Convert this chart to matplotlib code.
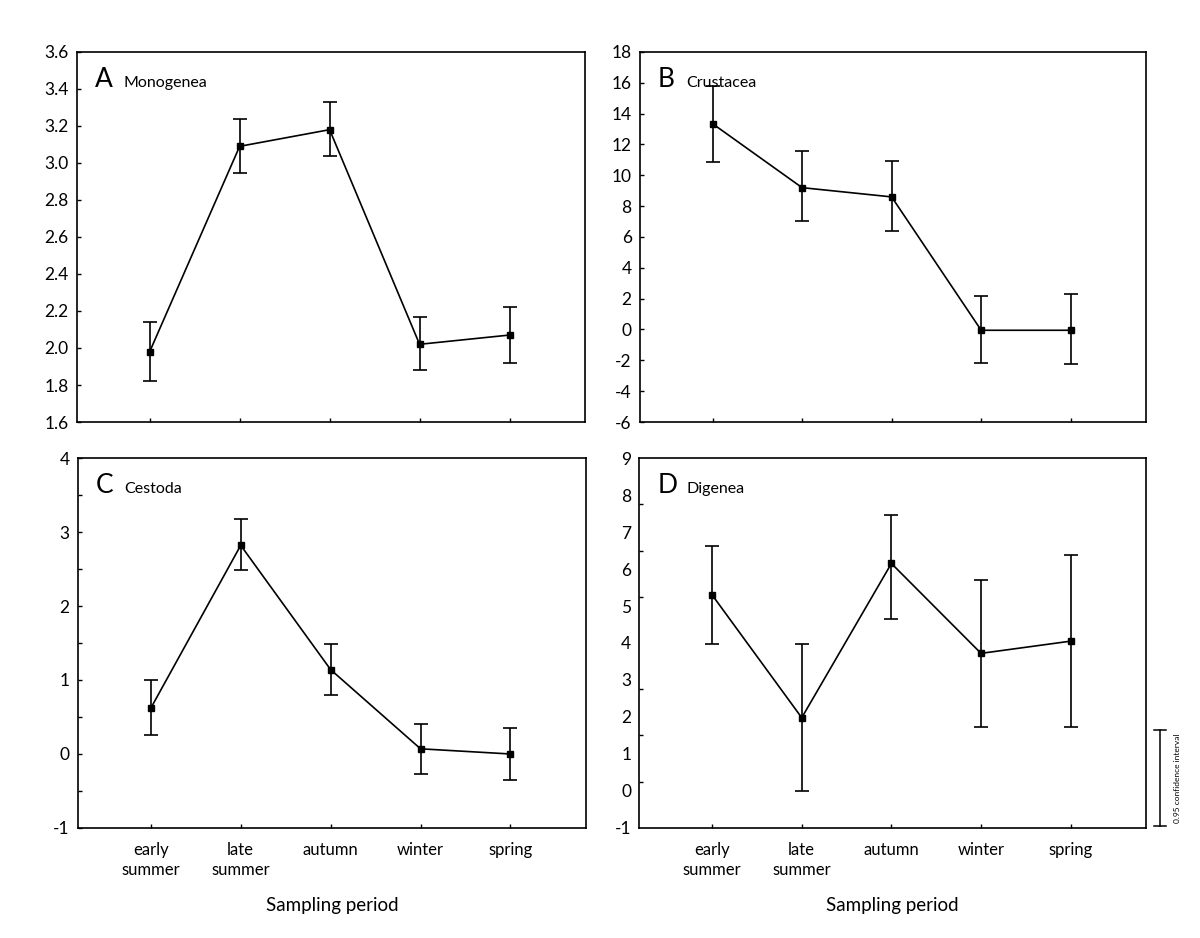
import matplotlib
matplotlib.use("Agg")
import matplotlib.pyplot as plt
from matplotlib.lines import Line2D
import numpy as np

plt.rcParams["font.family"] = ["Lato", "DejaVu Sans"]

periods = ["early\nsummer", "late\nsummer", "autumn", "winter", "spring"]

# means and 0.95 CI bounds
mono_mean = [1.98, 3.09, 3.18, 2.02, 2.07]
mono_low = [1.82, 2.945, 3.04, 1.88, 1.92]
mono_high = [2.14, 3.235, 3.33, 2.17, 2.22]

crus_mean = [13.35, 9.2, 8.6, -0.05, -0.05]
crus_low = [10.88, 7.05, 6.4, -2.2, -2.25]
crus_high = [15.8, 11.55, 10.9, 2.2, 2.3]

cest_mean = [0.62, 2.82, 1.14, 0.07, 0.0]
cest_low = [0.25, 2.49, 0.80, -0.27, -0.35]
cest_high = [1.0, 3.17, 1.49, 0.41, 0.35]

dige_mean = [5.3, 1.98, 6.15, 3.72, 4.05]
dige_low = [3.98, 0.0, 4.65, 1.73, 1.74]
dige_high = [6.63, 3.96, 7.46, 5.70, 6.37]

panels = [
    ("A", "Monogenea", mono_mean, mono_low, mono_high, (1.6, 3.6), np.arange(1.6, 3.61, 0.2), "%.1f"),
    ("B", "Crustacea", crus_mean, crus_low, crus_high, (-6, 18), np.arange(-6, 19, 2), "%d"),
    ("C", "Cestoda", cest_mean, cest_low, cest_high, (-1, 4), np.arange(-1, 5, 1), "%d"),
    ("D", "Digenea", dige_mean, dige_low, dige_high, (-1, 9), np.arange(-1, 10, 1), "%d"),
]

fig = plt.figure(figsize=(12, 9.38), dpi=100)
rects = [
    [0.064, 0.5501, 0.4236, 0.3945],
    [0.5333, 0.5501, 0.4217, 0.3945],
    [0.065, 0.1173, 0.4233, 0.3944],
    [0.5329, 0.1173, 0.4221, 0.3944],
]

x = np.arange(len(periods))
for rect, (letter, name, mean, low, high, ylim, yt, fmt) in zip(rects, panels):
    ax = fig.add_axes(rect)
    mean = np.array(mean)
    err = [mean - np.array(low), np.array(high) - mean]
    ax.errorbar(x, mean, yerr=err, color="black", lw=1.2, elinewidth=1.2,
                capsize=4.8, capthick=1.2, marker="s", markersize=4.5)
    ax.set_xlim(-0.81, 4.84)
    ax.set_ylim(*ylim)
    ax.set_yticks(yt)
    ax.set_yticklabels([fmt % v for v in yt])
    ax.set_xticks(x)
    ax.tick_params(direction="in", length=3, width=1, labelsize=12.5, pad=6)
    for s in ax.spines.values():
        s.set_linewidth(1.2)
    if letter in ("C", "D"):
        ax.set_xticklabels(periods, fontsize=12, linespacing=1.3)
        ax.tick_params(axis="x", pad=10)
        ax.set_xlabel("Sampling period", fontsize=13.5, labelpad=14)
    else:
        ax.set_xticklabels([])
    if letter == "C":
        ax.set_yticks(np.arange(-0.5, 4, 1.0), minor=True)
        ax.tick_params(axis="y", which="minor", direction="in", length=3, width=1)
    if letter == "D":
        # tick marks here sit at eighths of the axis, labels at every unit
        ax.tick_params(axis="y", which="major", length=0)
        ax.set_yticks(np.linspace(-1, 9, 9)[1:-1], minor=True)
        ax.tick_params(axis="y", which="minor", direction="in", length=3, width=1)
    ax.text(0.035, 0.905, letter, transform=ax.transAxes, fontsize=19, va="baseline")
    ax.text(0.092, 0.905, name, transform=ax.transAxes, fontsize=11.5, va="baseline")

# 0.95 confidence interval scale bar at the right
bx = 0.9667
fig.add_artist(Line2D([bx, bx], [0.1194, 0.2217], color="black", lw=1.1))
fig.add_artist(Line2D([bx - 0.005, bx + 0.005], [0.2217, 0.2217], color="black", lw=1.1))
fig.add_artist(Line2D([bx - 0.005, bx + 0.005], [0.1194, 0.1194], color="black", lw=1.1))
fig.text(0.981, 0.1706, "0.95 confidence interval", rotation=90, fontsize=6,
         ha="center", va="center")

fig.savefig("out.png", dpi=100)
